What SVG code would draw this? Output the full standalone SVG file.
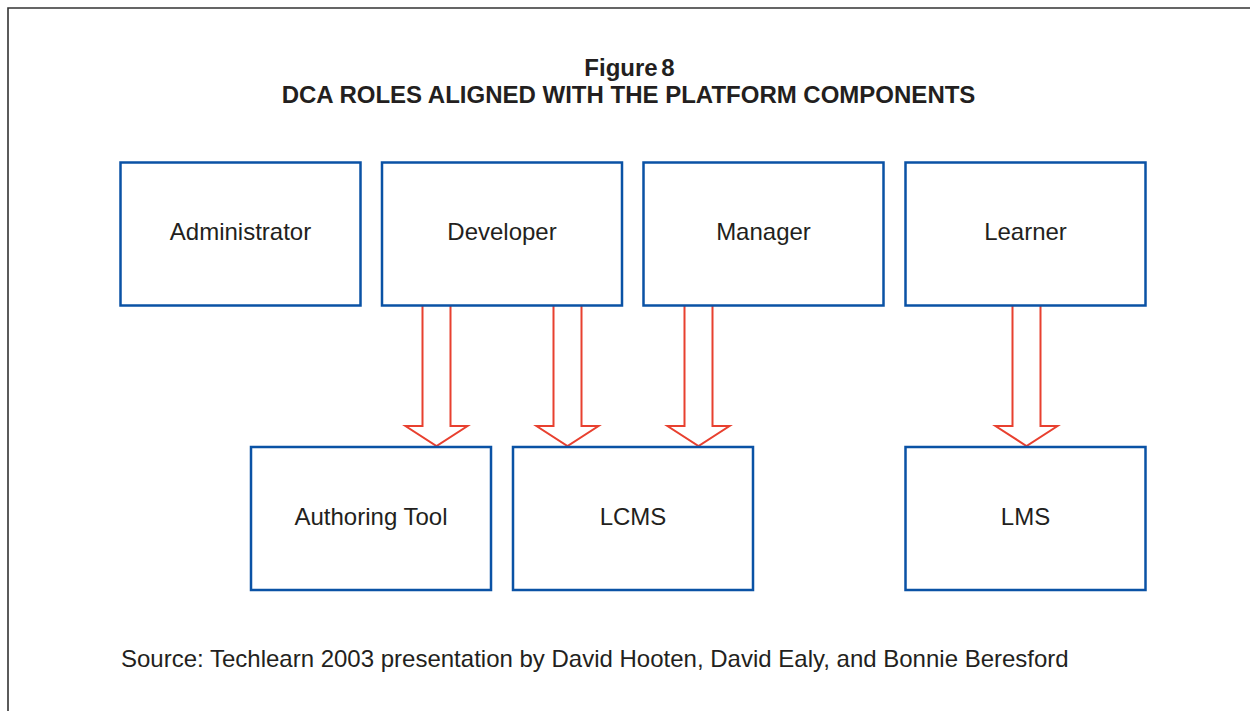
<svg xmlns="http://www.w3.org/2000/svg" width="1250" height="711" viewBox="0 0 1250 711">
<style>
.box{fill:#fff;stroke:#0a52a5;stroke-width:2.5}
.lbl{font-family:"Liberation Sans",Arial,sans-serif;font-size:24px;fill:#231f20;text-anchor:middle}
.ttl{font-family:"Liberation Sans",Arial,sans-serif;font-size:24px;font-weight:bold;fill:#231f20;text-anchor:middle}
.arr{fill:none;stroke:#e8402f;stroke-width:2;stroke-linejoin:miter}
</style>
<rect width="1250" height="711" fill="#fff"/>
<path d="M8,711 V8 H1250" fill="none" stroke="#333" stroke-width="1.6"/>
<text class="ttl" x="629.5" y="76" word-spacing="-3">Figure 8</text>
<text class="ttl" x="628.5" y="103">DCA ROLES ALIGNED WITH THE PLATFORM COMPONENTS</text>
<g id="connectors">
<path class="arr" d="M422.5,306 V426 H405.5 L436.5,446 L467.5,426 H450.5 V306"/>
<path class="arr" d="M553.5,306 V426 H536.5 L567.5,446 L598.5,426 H581.5 V306"/>
<path class="arr" d="M684.5,306 V426 H667.5 L698.5,446 L729.5,426 H712.5 V306"/>
<path class="arr" d="M1012.5,306 V426 H995.5 L1026.5,446 L1057.5,426 H1040.5 V306"/>
</g>
<g id="administrator"><rect class="box" x="120.5" y="162.5" width="240" height="143"/><text class="lbl" x="240.5" y="240">Administrator</text></g>
<g id="developer"><rect class="box" x="382" y="162.5" width="240" height="143"/><text class="lbl" x="502" y="240">Developer</text></g>
<g id="manager"><rect class="box" x="643.5" y="162.5" width="240" height="143"/><text class="lbl" x="763.5" y="240">Manager</text></g>
<g id="learner"><rect class="box" x="905.5" y="162.5" width="240" height="143"/><text class="lbl" x="1025.5" y="240">Learner</text></g>
<g id="authoring-tool"><rect class="box" x="251" y="447" width="240" height="143"/><text class="lbl" x="371" y="524.5">Authoring Tool</text></g>
<g id="lcms"><rect class="box" x="513" y="447" width="240" height="143"/><text class="lbl" x="633" y="524.5">LCMS</text></g>
<g id="lms"><rect class="box" x="905.5" y="447" width="240" height="143"/><text class="lbl" x="1025.5" y="524.5">LMS</text></g>
<text class="lbl" x="121" y="667" style="text-anchor:start">Source: Techlearn 2003 presentation by David Hooten, David Ealy, and Bonnie Beresford</text>
</svg>
